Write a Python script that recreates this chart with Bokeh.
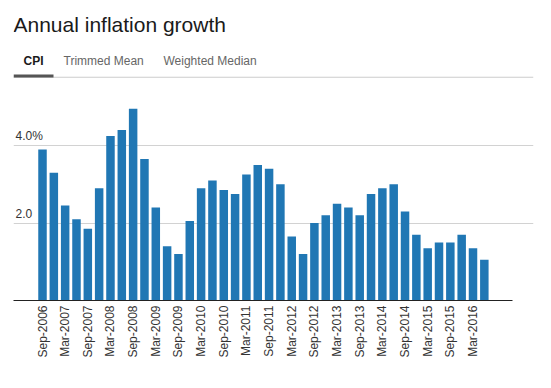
import math
from bokeh.plotting import figure
from bokeh.layouts import column
from bokeh.models import (Range1d, FixedTicker, Grid, Label, BoxAnnotation,
                          ColumnDataSource)
from bokeh.embed import file_html
from bokeh.resources import INLINE

# ---- data ----
quarters = ["Sep-2006", "Dec-2006", "Mar-2007", "Jun-2007", "Sep-2007", "Dec-2007",
            "Mar-2008", "Jun-2008", "Sep-2008", "Dec-2008", "Mar-2009", "Jun-2009",
            "Sep-2009", "Dec-2009", "Mar-2010", "Jun-2010", "Sep-2010", "Dec-2010",
            "Mar-2011", "Jun-2011", "Sep-2011", "Dec-2011", "Mar-2012", "Jun-2012",
            "Sep-2012", "Dec-2012", "Mar-2013", "Jun-2013", "Sep-2013", "Dec-2013",
            "Mar-2014", "Jun-2014", "Sep-2014", "Dec-2014", "Mar-2015", "Jun-2015",
            "Sep-2015", "Dec-2015", "Mar-2016", "Jun-2016"]
cpi = [3.9, 3.3, 2.45, 2.1, 1.85, 2.9, 4.25, 4.4, 4.95, 3.65, 2.4, 1.4,
       1.2, 2.05, 2.9, 3.1, 2.85, 2.75, 3.25, 3.5, 3.4, 3.0, 1.65, 1.2,
       2.0, 2.2, 2.5, 2.4, 2.2, 2.75, 2.9, 3.0, 2.3, 1.7, 1.35, 1.5,
       1.5, 1.7, 1.35, 1.05]
y_ticks = [2.0, 4.0]
y_tick_labels = ["2.0", "4.0%"]
title_text = "Annual inflation growth"
tabs = ["CPI", "Trimmed Mean", "Weighted Median"]

FONT = "Liberation Sans"
W = 543
FL, FR = 13, 533          # frame left / right (page px)

# ---- header (title + tabs) ----
HH = 90
hdr = figure(width=W, height=HH, x_range=Range1d(FL, FR), y_range=Range1d(HH, 0),
             x_axis_type=None, y_axis_type=None, toolbar_location=None,
             output_backend="svg", min_border=0, min_border_left=FL,
             min_border_right=W - FR, outline_line_color=None)
hdr.grid.visible = False
hdr.title.visible = False
hdr.add_layout(Label(x=13, y=23.5, text=title_text, text_font=FONT,
                     text_font_size="21px", text_color="#1a1a1a",
                     text_baseline="alphabetic"))
tab_x = [23, 63, 163]
for i, (t, tx) in enumerate(zip(tabs, tab_x)):
    hdr.add_layout(Label(x=tx, y=60.5, text=t, text_font=FONT,
                         text_font_size="12px",
                         text_font_style="bold" if i == 0 else "normal",
                         text_color="#1a1a1a" if i == 0 else "#666666",
                         text_baseline="alphabetic"))
hdr.add_layout(BoxAnnotation(left=13, right=533, top=76.2, bottom=77.2,
                             fill_color="#cccccc", fill_alpha=1, line_color=None))
hdr.add_layout(BoxAnnotation(left=13, right=53, top=74, bottom=77,
                             fill_color="#555555", fill_alpha=1, line_color=None))

# ---- chart ----
x = list(range(len(quarters)))
src = ColumnDataSource(dict(x=x, cpi=cpi, q=quarters))
x0, x_end, x_axis_end = -2.56, 43.34, 41.48
p = figure(width=W, height=290, x_range=Range1d(x0, x_end),
           y_range=Range1d(0, 5.37), y_axis_type=None,
           toolbar_location=None, output_backend="svg",
           min_border_left=FL, min_border_right=W - FR, min_border_top=2,
           min_border_bottom=80, outline_line_color=None)
p.title.visible = False
p.xgrid.visible = False
p.add_layout(Grid(dimension=1, ticker=FixedTicker(ticks=y_ticks),
                  bounds=(x0, x_axis_end),
                  grid_line_color="#d2d2d2", grid_line_width=1))
p.vbar(x="x", top="cpi", width=0.75, bottom=0, source=src,
       fill_color="#2077b4", line_color=None)

ax = p.xaxis[0]
label_ticks = x[::2]
ax.ticker = FixedTicker(ticks=label_ticks)
ax.bounds = (x0, x_axis_end)
ax.major_label_overrides = {i: quarters[i] for i in label_ticks}
ax.major_label_orientation = math.pi / 2
ax.major_label_text_font = FONT
ax.major_label_text_font_size = "12px"
ax.major_label_text_color = "#333333"
ax.major_label_standoff = 5
ax.major_tick_line_color = None
ax.minor_tick_line_color = None
ax.major_tick_out = 0
ax.major_tick_in = 0
ax.axis_line_color = "#222222"
ax.axis_line_width = 1

for yv, lab in zip(y_ticks, y_tick_labels):
    p.add_layout(Label(x=p.x_range.start, y=yv, x_offset=2, y_offset=10,
                       text=lab, text_font=FONT, text_font_size="12px",
                       text_color="#333333", text_baseline="alphabetic"))

layout = column(hdr, p)
open("out.html", "w").write(file_html(layout, INLINE))
